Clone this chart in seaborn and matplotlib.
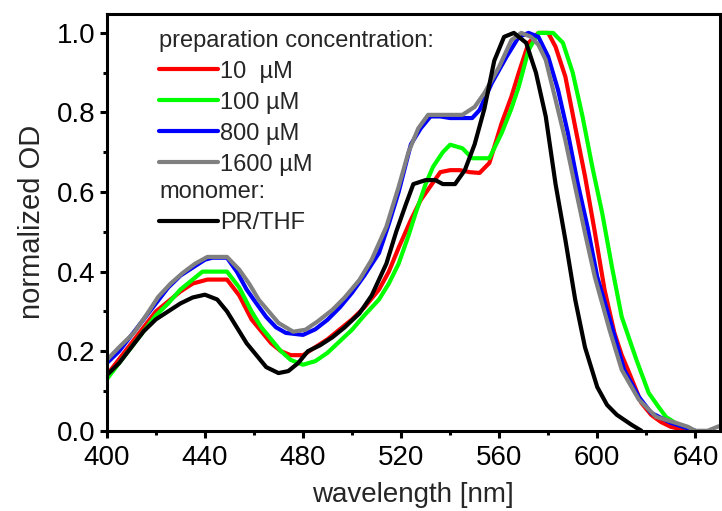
import numpy as np
import pandas as pd
import matplotlib
matplotlib.use("Agg")
import matplotlib.pyplot as plt
from matplotlib.lines import Line2D
from matplotlib.ticker import MultipleLocator, FormatStrFormatter
import seaborn as sns

# ---------------- data ----------------
wl_10 = [400, 405, 410, 415, 420, 425, 430, 435, 441, 449, 454, 459, 463, 467, 471, 475, 480, 485, 490,
         495, 500, 505, 511, 515, 519, 524, 528, 532, 536, 540, 544, 548, 552, 556, 561, 565, 568, 572,
         576, 580, 583, 587, 591, 595, 599, 603, 607, 610, 613, 618, 622, 626, 630, 637]
od_10 = [0.14, 0.18, 0.22, 0.26, 0.30, 0.325, 0.35, 0.37, 0.38, 0.38, 0.34, 0.28, 0.25, 0.22, 0.20, 0.19,
         0.19, 0.21, 0.23, 0.255, 0.28, 0.31, 0.355, 0.40, 0.46, 0.53, 0.58, 0.615, 0.65, 0.655, 0.655,
         0.65, 0.648, 0.673, 0.773, 0.84, 0.90, 0.975, 1.0, 1.0, 0.965, 0.89, 0.764, 0.64, 0.50, 0.354,
         0.246, 0.19, 0.146, 0.07, 0.04, 0.022, 0.01, 0.0]

wl_100 = [400, 405, 410, 415, 420, 425, 430, 435, 439, 443, 449, 454, 459, 463, 467, 471, 475, 480, 485,
          490, 495, 500, 505, 511, 515, 519, 523, 526, 530, 533, 537, 540, 545, 549, 556, 561, 565, 568,
          572, 576, 582, 586, 590, 594, 598, 602, 606, 610, 616, 621, 625, 628, 633, 640]
od_100 = [0.13, 0.17, 0.21, 0.25, 0.29, 0.32, 0.355, 0.38, 0.40, 0.40, 0.40, 0.36, 0.30, 0.26, 0.23, 0.20,
          0.178, 0.166, 0.175, 0.196, 0.225, 0.254, 0.29, 0.33, 0.37, 0.42, 0.49, 0.548, 0.62, 0.663,
          0.70, 0.719, 0.71, 0.685, 0.685, 0.748, 0.81, 0.865, 0.957, 1.0, 1.0, 0.975, 0.90, 0.79, 0.663,
          0.548, 0.412, 0.286, 0.178, 0.095, 0.06, 0.035, 0.015, 0.0]

wl_800 = [400, 405, 410, 415, 420, 425, 430, 435, 440, 443, 449, 453, 457, 461, 465, 469, 473, 480, 485,
          490, 495, 500, 505, 511, 515, 519, 524, 528, 532, 536, 540, 545, 549, 552, 557, 563, 568, 572,
          576, 580, 584, 588, 592, 596, 600, 606, 611, 617, 622, 630, 640]
od_800 = [0.17, 0.20, 0.24, 0.28, 0.32, 0.36, 0.39, 0.41, 0.43, 0.435, 0.435, 0.40, 0.355, 0.32, 0.286,
          0.26, 0.246, 0.241, 0.255, 0.279, 0.31, 0.347, 0.39, 0.447, 0.52, 0.60, 0.72, 0.76, 0.79, 0.79,
          0.786, 0.786, 0.786, 0.806, 0.874, 0.94, 0.99, 1.0, 0.99, 0.94, 0.857, 0.749, 0.623, 0.513,
          0.387, 0.261, 0.153, 0.085, 0.045, 0.02, 0.0]

wl_1600 = [400, 405, 411, 416, 421, 426, 431, 436, 441, 449, 454, 458, 462, 466, 470, 476, 481, 486, 492,
           497, 503, 508, 514, 519, 523, 527, 531, 535, 540, 545, 550, 554, 560, 565, 569, 573, 576, 579,
           583, 587, 591, 595, 599, 605, 610, 617, 624, 632, 637, 640, 645, 649, 650]
od_1600 = [0.178, 0.21, 0.246, 0.29, 0.337, 0.37, 0.397, 0.42, 0.437, 0.437, 0.405, 0.37, 0.329, 0.30,
           0.271, 0.249, 0.254, 0.275, 0.304, 0.335, 0.379, 0.43, 0.513, 0.613, 0.70, 0.76, 0.794, 0.794,
           0.794, 0.794, 0.814, 0.849, 0.915, 0.982, 1.0, 0.99, 0.97, 0.932, 0.832, 0.73, 0.613, 0.497,
           0.387, 0.254, 0.153, 0.078, 0.035, 0.02, 0.01, 0.0, 0.0, 0.01, 0.012]

wl_thf = [400, 405, 410, 415, 420, 425, 430, 435, 440, 445, 449, 453, 457, 461, 465, 470, 474, 478, 482,
          487, 492, 497, 503, 508, 514, 518, 522, 525, 530, 534, 537, 542, 546, 550, 554, 558, 562, 566,
          571, 575, 579, 583, 587, 591, 595, 600, 604, 608, 614, 618]
od_thf = [0.14, 0.17, 0.21, 0.25, 0.28, 0.30, 0.32, 0.335, 0.342, 0.33, 0.30, 0.26, 0.22, 0.19, 0.16,
          0.145, 0.15, 0.17, 0.20, 0.215, 0.235, 0.26, 0.295, 0.34, 0.42, 0.50, 0.57, 0.62, 0.63, 0.63,
          0.62, 0.62, 0.655, 0.72, 0.81, 0.93, 0.99, 1.0, 0.975, 0.90, 0.79, 0.62, 0.48, 0.33, 0.21,
          0.11, 0.065, 0.04, 0.015, 0.0]

series_prep = ["10  µM", "100 µM", "800 µM", "1600 µM"]
series_mono = ["PR/THF"]
colors = {"10  µM": "#ff0000", "100 µM": "#00ff00", "800 µM": "#0000ff",
          "1600 µM": "#808080", "PR/THF": "#000000"}

x_ticks = [400, 440, 480, 520, 560, 600, 640]
y_ticks = [0.0, 0.2, 0.4, 0.6, 0.8, 1.0]

frames = []
for name, wl, od in [("10  µM", wl_10, od_10), ("100 µM", wl_100, od_100),
                     ("800 µM", wl_800, od_800), ("1600 µM", wl_1600, od_1600),
                     ("PR/THF", wl_thf, od_thf)]:
    frames.append(pd.DataFrame({"wavelength": wl, "od": od, "sample": name}))
df = pd.concat(frames, ignore_index=True)

# ---------------- styling ----------------
sns.set_theme(style="ticks")
plt.rcParams["font.family"] = ["Liberation Sans", "DejaVu Sans"]

fig = plt.figure(figsize=(7.22, 5.11), dpi=100)
ax = fig.add_axes([0.148, 0.157, 0.849, 0.816])

for name in series_prep + series_mono:
    sub = df[df["sample"] == name]
    sns.lineplot(data=sub, x="wavelength", y="od", color=colors[name], lw=3.0,
                 sort=False, estimator=None, ax=ax, legend=False)

ax.set_xlim(400, 650)
ax.set_ylim(0, 1.048)
ax.set_xticks(x_ticks)
ax.set_xticklabels([str(t) for t in x_ticks])
ax.set_yticks(y_ticks)
ax.yaxis.set_major_formatter(FormatStrFormatter("%.1f"))
ax.xaxis.set_minor_locator(MultipleLocator(20))
ax.yaxis.set_minor_locator(MultipleLocator(0.1))

for s in ax.spines.values():
    s.set_visible(True)
    s.set_linewidth(2.2)
    s.set_color("black")

ax.tick_params(axis="both", which="major", direction="out", length=5, width=2.2,
               labelsize=20, colors="black", pad=3)
ax.tick_params(axis="x", which="major", pad=5)
ax.tick_params(axis="both", which="minor", direction="out", length=3, width=2.2, colors="black")
ax.tick_params(top=False, right=False, which="both")

ax.set_xlabel("wavelength [nm]", fontsize=20, labelpad=8)
ax.set_ylabel("normalized OD", fontsize=21, labelpad=8)

# ---------------- legends ----------------
h1 = [Line2D([], [], color=colors[n], lw=3.0) for n in series_prep]
leg1 = ax.legend(h1, series_prep, title="preparation concentration:", loc="upper left",
                 bbox_to_anchor=(0.085, 0.962), frameon=False, fontsize=17, title_fontsize=17,
                 handlelength=2.5, handletextpad=0.1, labelspacing=0.38, borderpad=0,
                 borderaxespad=0, alignment="left")
ax.add_artist(leg1)
h2 = [Line2D([], [], color=colors[n], lw=3.0) for n in series_mono]
leg2 = ax.legend(h2, series_mono, title="monomer:", loc="upper left",
                 bbox_to_anchor=(0.085, 0.598), frameon=False, fontsize=17, title_fontsize=17,
                 handlelength=2.5, handletextpad=0.1, labelspacing=0.38, borderpad=0,
                 borderaxespad=0, alignment="left")

fig.savefig("out.png", dpi=100)
